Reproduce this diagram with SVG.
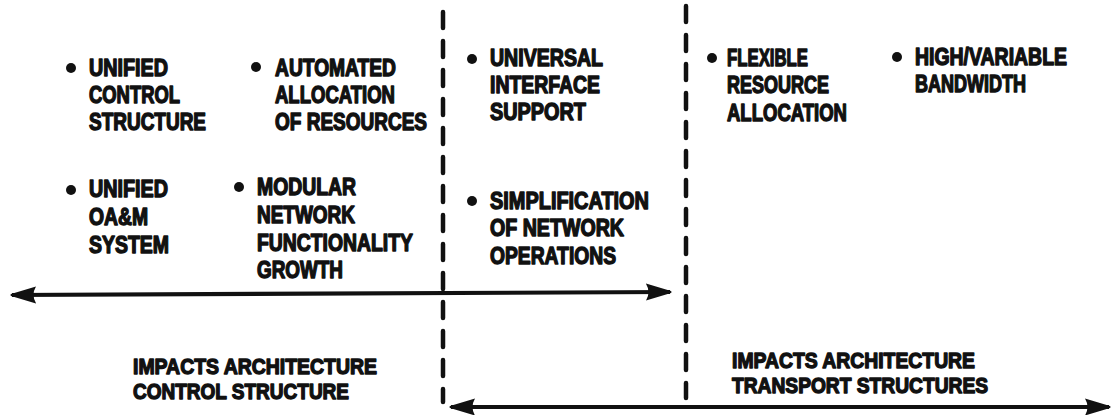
<svg xmlns="http://www.w3.org/2000/svg" width="1113" height="415" viewBox="0 0 1113 415">
  <style>
    text { font-family: "Liberation Sans Narrow", "Liberation Sans", Arial, sans-serif; font-weight: 700; font-size: 23px; fill: #111; stroke: #111; stroke-width: 1.4; stroke-linejoin: round; }
    .label { font-size: 22px; }
    .bullet { fill: #111; }
    .divider { stroke: #111; stroke-width: 4.5; stroke-linecap: round; stroke-dasharray: 16 13; fill: none; }
    .span { stroke: #111; stroke-width: 4.2; fill: none; }
  </style>
  <defs>
    <marker id="head" viewBox="0 0 26 18" refX="24" refY="9" markerWidth="26" markerHeight="18" markerUnits="userSpaceOnUse" orient="auto-start-reverse">
      <path d="M0,0.5 Q5,9 0,17.5 L25,10 Q26,9 25,8 Z" fill="#111"/>
    </marker>
  </defs>
  <rect width="1113" height="415" fill="#fff"/>

  <!-- dashed column dividers and double-headed span arrows -->
  <g id="connectors">
    <line class="divider" x1="443" y1="12" x2="443" y2="402"/>
    <line class="divider" x1="686" y1="6" x2="686" y2="398"/>
    <line class="span" x1="12" y1="295" x2="670" y2="292" marker-start="url(#head)" marker-end="url(#head)"/>
    <line class="span" x1="451" y1="407" x2="1109" y2="407" marker-start="url(#head)" marker-end="url(#head)"/>
  </g>

  <g id="unified-control">
    <circle class="bullet" cx="71" cy="68" r="5"/>
    <text x="89" y="76" textLength="79" lengthAdjust="spacingAndGlyphs">UNIFIED</text>
    <text x="89" y="103" textLength="91" lengthAdjust="spacingAndGlyphs">CONTROL</text>
    <text x="89" y="130" textLength="117" lengthAdjust="spacingAndGlyphs">STRUCTURE</text>
  </g>

  <g id="automated-allocation">
    <circle class="bullet" cx="256" cy="67" r="5"/>
    <text x="275" y="76" textLength="121" lengthAdjust="spacingAndGlyphs">AUTOMATED</text>
    <text x="275" y="103" textLength="120" lengthAdjust="spacingAndGlyphs">ALLOCATION</text>
    <text x="275" y="130" textLength="152" lengthAdjust="spacingAndGlyphs">OF RESOURCES</text>
  </g>

  <g id="unified-oam">
    <circle class="bullet" cx="71" cy="190" r="5"/>
    <text x="89" y="197" textLength="79" lengthAdjust="spacingAndGlyphs">UNIFIED</text>
    <text x="89" y="225" textLength="59" lengthAdjust="spacingAndGlyphs">OA&amp;M</text>
    <text x="89" y="253" textLength="80" lengthAdjust="spacingAndGlyphs">SYSTEM</text>
  </g>

  <g id="modular-growth">
    <circle class="bullet" cx="239" cy="187" r="5"/>
    <text x="257" y="195" textLength="99" lengthAdjust="spacingAndGlyphs">MODULAR</text>
    <text x="257" y="223" textLength="98" lengthAdjust="spacingAndGlyphs">NETWORK</text>
    <text x="257" y="251" textLength="156" lengthAdjust="spacingAndGlyphs">FUNCTIONALITY</text>
    <text x="257" y="278" textLength="86" lengthAdjust="spacingAndGlyphs">GROWTH</text>
  </g>

  <g id="universal-interface">
    <circle class="bullet" cx="472" cy="59" r="5"/>
    <text x="490" y="66" textLength="113" lengthAdjust="spacingAndGlyphs">UNIVERSAL</text>
    <text x="490" y="93" textLength="110" lengthAdjust="spacingAndGlyphs">INTERFACE</text>
    <text x="490" y="120" textLength="96" lengthAdjust="spacingAndGlyphs">SUPPORT</text>
  </g>

  <g id="simplification">
    <circle class="bullet" cx="472" cy="201" r="5"/>
    <text x="490" y="209" textLength="159" lengthAdjust="spacingAndGlyphs">SIMPLIFICATION</text>
    <text x="490" y="236" textLength="134" lengthAdjust="spacingAndGlyphs">OF NETWORK</text>
    <text x="490" y="264" textLength="126" lengthAdjust="spacingAndGlyphs">OPERATIONS</text>
  </g>

  <g id="flexible-allocation">
    <circle class="bullet" cx="712" cy="58" r="5"/>
    <text x="727" y="66" textLength="81" lengthAdjust="spacingAndGlyphs">FLEXIBLE</text>
    <text x="727" y="93" textLength="102" lengthAdjust="spacingAndGlyphs">RESOURCE</text>
    <text x="727" y="121" textLength="120" lengthAdjust="spacingAndGlyphs">ALLOCATION</text>
  </g>

  <g id="bandwidth">
    <circle class="bullet" cx="897" cy="57" r="5"/>
    <text x="915" y="65" textLength="152" lengthAdjust="spacingAndGlyphs">HIGH/VARIABLE</text>
    <text x="915" y="92" textLength="111" lengthAdjust="spacingAndGlyphs">BANDWIDTH</text>
  </g>

  <g id="control-impact">
    <text class="label" x="133" y="374" textLength="244" lengthAdjust="spacingAndGlyphs">IMPACTS ARCHITECTURE</text>
    <text class="label" x="133" y="399" textLength="216" lengthAdjust="spacingAndGlyphs">CONTROL STRUCTURE</text>
  </g>

  <g id="transport-impact">
    <text class="label" x="732" y="368" textLength="243" lengthAdjust="spacingAndGlyphs">IMPACTS ARCHITECTURE</text>
    <text class="label" x="732" y="393" textLength="256" lengthAdjust="spacingAndGlyphs">TRANSPORT STRUCTURES</text>
  </g>
</svg>
